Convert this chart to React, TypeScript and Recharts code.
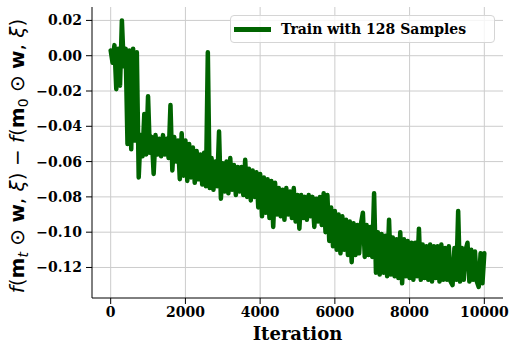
import React from 'react';
import { LineChart, Line, XAxis, YAxis, CartesianGrid } from 'recharts';

// loss gap, read every 50 iterations (zig-zag between band top and bottom)
const lossGap = [
  0.003, -0.004, 0.006, -0.019, 0.004, -0.017, 0.020, -0.006, 0.004, -0.050,
  0.003, -0.053, 0.004, -0.048, 0.002, -0.069, -0.045, -0.057, -0.033, -0.056,
  -0.023, -0.055, -0.046, -0.067, -0.045, -0.056, -0.047, -0.057, -0.045, -0.056,
  -0.047, -0.058, -0.028, -0.065, -0.046, -0.060, -0.048, -0.070, -0.044, -0.068,
  -0.048, -0.071, -0.050, -0.069, -0.052, -0.072, -0.054, -0.070, -0.056, -0.073,
  -0.055, -0.074, 0.002, -0.075, -0.058, -0.076, -0.060, -0.074, -0.043, -0.081,
  -0.061, -0.077, -0.060, -0.078, -0.058, -0.076, -0.062, -0.079, -0.063, -0.077,
  -0.063, -0.079, -0.059, -0.080, -0.064, -0.082, -0.065, -0.080, -0.066, -0.086,
  -0.067, -0.091, -0.069, -0.089, -0.070, -0.092, -0.071, -0.097, -0.072, -0.090,
  -0.075, -0.091, -0.076, -0.093, -0.075, -0.090, -0.077, -0.092, -0.075, -0.094,
  -0.079, -0.098, -0.079, -0.092, -0.080, -0.093, -0.079, -0.091, -0.080, -0.097,
  -0.081, -0.094, -0.080, -0.096, -0.078, -0.100, -0.079, -0.105, -0.086, -0.108,
  -0.088, -0.110, -0.090, -0.112, -0.091, -0.110, -0.093, -0.113, -0.094, -0.117,
  -0.095, -0.113, -0.096, -0.112, -0.095, -0.089, -0.114, -0.096, -0.113, -0.097,
  -0.114, -0.078, -0.123, -0.100, -0.124, -0.101, -0.123, -0.102, -0.125, -0.093,
  -0.124, -0.103, -0.125, -0.104, -0.126, -0.100, -0.129, -0.104, -0.125, -0.105,
  -0.126, -0.106, -0.127, -0.106, -0.125, -0.098, -0.127, -0.107, -0.126, -0.108,
  -0.127, -0.107, -0.128, -0.108, -0.126, -0.108, -0.128, -0.107, -0.127, -0.109,
  -0.127, -0.108, -0.128, -0.130, -0.109, -0.127, -0.088, -0.128, -0.109, -0.127,
  -0.110, -0.106, -0.128, -0.110, -0.127, -0.111, -0.128, -0.131, -0.112, -0.129,
  -0.112,
];
const step = 50;
const xTicks = [0, 2000, 4000, 6000, 8000, 10000];
const yTicks = [0.02, 0, -0.02, -0.04, -0.06, -0.08, -0.1, -0.12];
const seriesName = 'Train with 128 Samples';

const data = lossGap.map((v, i) => ({ iter: i * step, gap: v }));

const GREEN = '#006400';
const tickFont = { fontFamily: 'DejaVu Serif', fontWeight: 'bold', fontSize: 14, fill: '#000' };

const fmtY = (v: number) => (v < 0 ? '\u2212' + Math.abs(v).toFixed(2) : v.toFixed(2));

const YTitle = () => {
  const sub = { fontSize: 14, baselineShift: '-25%' } as any;
  return (
    <text
      transform="translate(24,156) rotate(-90)"
      textAnchor="middle"
      style={{ fontFamily: 'DejaVu Sans', fontSize: 20, fill: '#000' }}
    >
      <tspan fontStyle="italic">f</tspan>
      <tspan>(</tspan>
      <tspan fontWeight="bold">m</tspan>
      <tspan fontStyle="italic" style={sub}>t</tspan>
      <tspan> ⊙ </tspan>
      <tspan fontWeight="bold">w</tspan>
      <tspan>, </tspan>
      <tspan fontStyle="italic">ξ</tspan>
      <tspan>) − </tspan>
      <tspan fontStyle="italic">f</tspan>
      <tspan>(</tspan>
      <tspan fontWeight="bold">m</tspan>
      <tspan style={sub}>0</tspan>
      <tspan> ⊙ </tspan>
      <tspan fontWeight="bold">w</tspan>
      <tspan>, </tspan>
      <tspan fontStyle="italic">ξ</tspan>
      <tspan>)</tspan>
    </text>
  );
};

const XTitle = () => (
  <text
    x={297.5}
    y={340}
    textAnchor="middle"
    style={{ fontFamily: 'DejaVu Serif', fontWeight: 'bold', fontSize: 18, fill: '#000' }}
  >
    Iteration
  </text>
);

export default function App() {
  return (
    <div style={{ position: 'absolute', left: 0, top: 0, width: 519, height: 351, background: '#fff' }}>
      <LineChart width={519} height={351} data={data} margin={{ top: 7, right: 16, left: 0, bottom: 0 }}>
        <CartesianGrid stroke="#cccccc" strokeWidth={1} horizontalValues={yTicks} verticalValues={xTicks} />
        <XAxis
          dataKey="iter"
          type="number"
          domain={[-500, 10500]}
          ticks={xTicks}
          height={53}
          tick={tickFont}
          tickSize={6}
          tickMargin={3}
          axisLine={{ stroke: '#000' }}
          tickLine={{ stroke: '#000' }}
          label={<XTitle />}
          allowDataOverflow
        />
        <XAxis
          xAxisId="top"
          orientation="top"
          type="number"
          domain={[-500, 10500]}
          height={0}
          tick={false}
          tickLine={false}
          axisLine={{ stroke: '#000' }}
        />
        <YAxis
          type="number"
          domain={[-0.1373, 0.0276]}
          ticks={yTicks}
          width={92}
          tick={tickFont}
          tickFormatter={fmtY}
          tickSize={6}
          tickMargin={4}
          axisLine={{ stroke: '#000' }}
          tickLine={{ stroke: '#000' }}
          label={<YTitle />}
          allowDataOverflow
        />
        <YAxis
          yAxisId="right"
          orientation="right"
          type="number"
          domain={[-0.1373, 0.0276]}
          width={0}
          tick={false}
          tickLine={false}
          axisLine={{ stroke: '#000' }}
        />
        <Line
          dataKey="gap"
          name={seriesName}
          stroke={GREEN}
          strokeWidth={4.5}
          strokeLinejoin="round"
          strokeLinecap="round"
          dot={false}
          activeDot={false}
          isAnimationActive={false}
        />
      </LineChart>
      <div
        style={{
          position: 'absolute',
          left: 230,
          top: 15,
          width: 265,
          height: 28,
          boxSizing: 'border-box',
          border: '1px solid #d5d5d5',
          borderRadius: 4,
          background: 'rgba(255,255,255,0.8)',
          display: 'flex',
          alignItems: 'center',
        }}
      >
        <div style={{ marginLeft: 3, width: 37, height: 5, background: GREEN }} />
        <span
          style={{
            marginLeft: 10,
            fontFamily: 'DejaVu Serif',
            fontWeight: 'bold',
            fontSize: 14,
            color: '#000',
            whiteSpace: 'nowrap',
          }}
        >
          {seriesName}
        </span>
      </div>
    </div>
  );
}
